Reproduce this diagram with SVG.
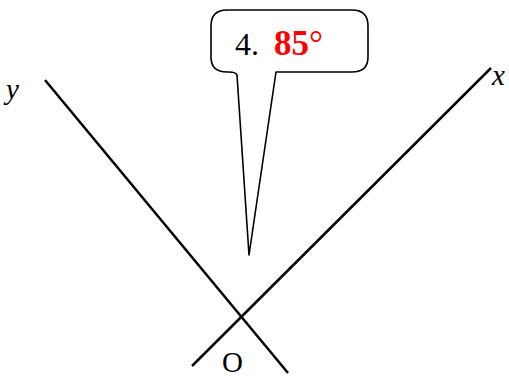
<svg xmlns="http://www.w3.org/2000/svg" width="509" height="378" viewBox="0 0 509 378">
<style>
.ax{stroke:#000;stroke-width:2.5;fill:none;stroke-linecap:butt}
.lbl{font-family:"Liberation Serif",serif;font-size:29px;fill:#000}
.it{font-style:italic}
.big{font-family:"Liberation Serif",serif;font-size:35px}
.num{font-family:"Liberation Serif",serif;font-size:32px}
</style>
<rect width="509" height="378" fill="#fff"/>
<g id="connectors">
<line class="ax" x1="45" y1="80" x2="288" y2="373"/>
<line class="ax" x1="192" y1="366" x2="491" y2="68"/>
</g>
<g id="callout">
<path d="M227,10 H352 Q368,10 368,26 V57 Q368,72 352,72 H276 L249,255 L237,75 Q236,72 229,72 H227 Q211,72 211,57 V26 Q211,10 227,10 Z" fill="#fff" stroke="#000" stroke-width="1.6" stroke-linejoin="round"/>
<text x="235" y="55" class="num" fill="#000">4.</text>
<text x="274" y="55" class="big" fill="#ff0000"><tspan font-weight="bold">85</tspan><tspan>°</tspan></text>
</g>
<g id="label-y"><text x="6" y="99" class="lbl it">y</text></g>
<g id="label-x"><text x="492" y="85" class="lbl it">x</text></g>
<g id="label-O"><text x="222" y="372" class="lbl">O</text></g>
</svg>
